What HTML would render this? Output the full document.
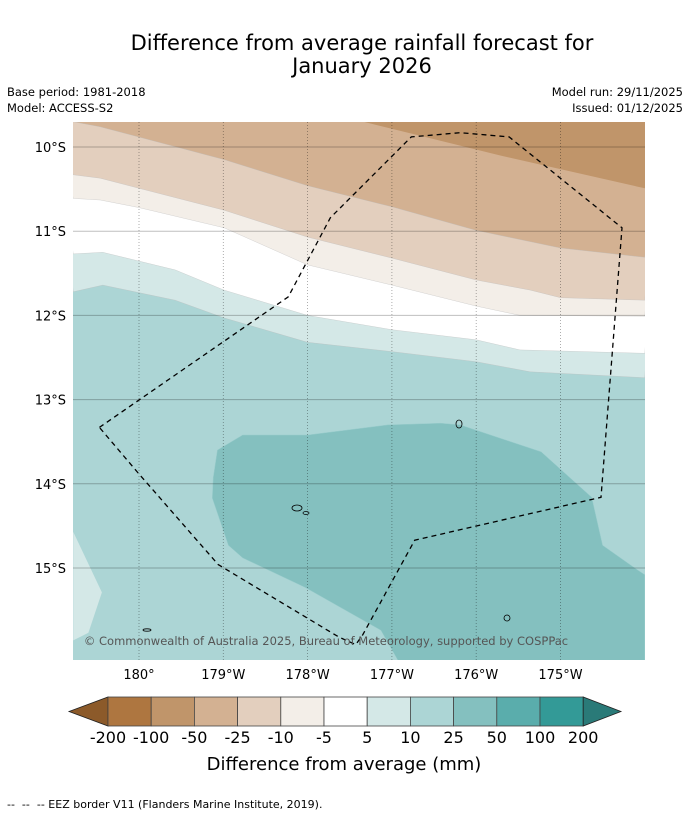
<!DOCTYPE html>
<html><head><meta charset="utf-8"><style>
body{margin:0;background:#fff;font-family:"Liberation Sans","DejaVu Sans",sans-serif}
#w{position:relative;width:690px;height:816px;overflow:hidden}
</style></head><body><div id="w">
<svg id="s" width="690" height="816" xmlns="http://www.w3.org/2000/svg" style="position:absolute;left:0;top:0">
<text x="362" y="50" font-size="21" text-anchor="middle" font-family="DejaVu Sans,sans-serif">Difference from average rainfall forecast for</text>
<text x="362" y="73" font-size="21" text-anchor="middle" font-family="DejaVu Sans,sans-serif">January 2026</text>
<text x="7" y="96" font-size="11.5" font-family="DejaVu Sans,sans-serif">Base period: 1981-2018</text>
<text x="7" y="112" font-size="11.5" font-family="DejaVu Sans,sans-serif">Model: ACCESS-S2</text>
<text x="683" y="96" font-size="11.5" text-anchor="end" font-family="DejaVu Sans,sans-serif">Model run: 29/11/2025</text>
<text x="683" y="112" font-size="11.5" text-anchor="end" font-family="DejaVu Sans,sans-serif">Issued: 01/12/2025</text>
<defs><clipPath id="cp"><rect x="73" y="122" width="572" height="538"/></clipPath></defs>
<g id="map" clip-path="url(#cp)"></g>
<g id="ax"></g>
<g id="cb"></g>
<text x="344" y="770" font-size="18" text-anchor="middle" font-family="DejaVu Sans,sans-serif">Difference from average (mm)</text>
<text x="7" y="808" font-size="11" font-family="DejaVu Sans,sans-serif">--&#160;&#160;--&#160;&#160;-- EEZ border V11 (Flanders Marine Institute, 2019).</text>
</svg>
<script>
const lonTicks=[0,1,2,3,4,5];
const lonLabels=["180°","179°W","178°W","177°W","176°W","175°W"];
const latTicks=[10,11,12,13,14,15];
const latLabels=["10°S","11°S","12°S","13°S","14°S","15°S"];
const cbLevels=["-200","-100","-50","-25","-10","-5","5","10","25","50","100","200"];
const cbColors=["#ae7640","#c0956a","#d3b192","#e3cfbe","#f3eee8","#ffffff","#d4e8e7","#acd5d5","#84c0bf","#5aadac","#339a97"];
const b1=[[2.66,9.70],[4.28,10.10],[6.0,10.49]];
const b2=[[-0.78,9.70],[-0.46,9.76],[1.01,10.15],[2.0,10.46],[3.0,10.71],[4.0,10.99],[5.0,11.20],[6.0,11.31]];
const b3=[[-0.78,10.33],[-0.46,10.37],[0,10.49],[1.01,10.75],[2.0,11.07],[3.0,11.32],[4.0,11.58],[4.64,11.70],[5.0,11.79],[6.0,11.82]];
const b4=[[-0.78,10.61],[-0.46,10.63],[0,10.72],[1.01,10.96],[2.0,11.40],[3.0,11.64],[4.0,11.89],[4.52,12.0],[6.0,12.01]];
const b5=[[-0.78,11.27],[-0.43,11.25],[0.43,11.46],[1.01,11.70],[2.0,12.0],[3.0,12.17],[4.0,12.29],[4.52,12.41],[6.0,12.45]];
const b6=[[-0.78,11.72],[-0.43,11.64],[0.43,11.82],[1.01,12.03],[2.0,12.32],[3.0,12.43],[4.0,12.55],[4.64,12.67],[6.0,12.74]];
const blob=[[0.93,13.60],[1.23,13.42],[2.0,13.42],[2.95,13.30],[3.58,13.28],[3.81,13.30],[4.77,13.62],[5.37,14.16],[5.50,14.73],[5.91,15.02],[6.0,15.08],[6.0,16.2],[3.13,16.2],[2.87,15.74],[1.97,15.23],[1.23,14.88],[1.06,14.73],[0.87,14.17],[0.88,13.93]];
const swLight=[[-0.78,14.57],[-0.44,15.29],[-0.60,15.77],[-0.78,15.86]];
const eez=[[-0.47,13.33],[1.77,11.78],[2.27,10.84],[3.23,9.88],[3.81,9.83],[4.39,9.88],[5.73,10.96],[5.48,14.16],[3.27,14.67],[2.65,15.80],[2.57,15.91],[2.37,15.82],[0.94,14.96],[-0.02,13.86],[-0.47,13.33]];
const X=d=>139+d*84.3, Y=l=>147+(l-10)*84.2;
const NS="http://www.w3.org/2000/svg";
function mk(t,a,p){const e=document.createElementNS(NS,t);for(const k in a)e.setAttribute(k,a[k]);p.appendChild(e);return e;}
const map=document.getElementById('map'),ax=document.getElementById('ax'),cb=document.getElementById('cb');
const pts=a=>a.map(p=>X(p[0]).toFixed(1)+','+Y(p[1]).toFixed(1)).join(' ');
let bg=mk('rect',{x:73,y:122,width:572,height:538,fill:cbColors[7]},map);


const layers=[[b6,cbColors[6],'band-5-10'],[b5,cbColors[5],'band-neutral'],[b4,cbColors[4],'band-neg10-neg5'],[b3,cbColors[3],'band-neg25-neg10'],[b2,cbColors[2],'band-neg50-neg25']];
layers.forEach(([b,c,n])=>{const a=b.concat([[6.2,9.5],[-1,9.5]]);
 const e=mk('polygon',{points:pts(a),fill:c,stroke:'#bbb','stroke-width':0.3},map);
 
 });
let e1=mk('polygon',{points:pts(b1.concat([[6.2,9.5]])),fill:cbColors[1]},map);


let e2=mk('polygon',{points:pts(blob),fill:cbColors[8],stroke:'#9cc',"stroke-width":0.5},map);


let e3=mk('polygon',{points:pts(swLight),fill:cbColors[6]},map);


latTicks.forEach((l,i)=>{let g=mk('line',{x1:73,x2:645,y1:Y(l),y2:Y(l),stroke:'rgba(0,0,0,0.25)','stroke-width':1},map);
 
 
 let t=mk('text',{x:66,y:Y(l)+5,'font-size':13,'text-anchor':'end','font-family':'DejaVu Sans,sans-serif'},ax);t.textContent=latLabels[i];
 
 });
lonTicks.forEach((d,i)=>{let g=mk('line',{x1:X(d),x2:X(d),y1:122,y2:660,stroke:'rgba(0,0,0,0.4)','stroke-width':0.8,'stroke-dasharray':'1,2'},map);
 
 
 let t=mk('text',{x:X(d),y:679,'font-size':13,'text-anchor':'middle','font-family':'DejaVu Sans,sans-serif'},ax);t.textContent=lonLabels[i];
 
 });
let ez=mk('polyline',{points:pts(eez),fill:'none',stroke:'#000','stroke-width':1.3,'stroke-dasharray':'5,4'},map);


[[297,508,5,3],[306,513,3,1.5],[459,424,3,4],[507,618,3,3],[147,630,4,1.2]].forEach(a=>{let e=mk('ellipse',{cx:a[0],cy:a[1],rx:a[2],ry:a[3],fill:'none',stroke:'#000','stroke-width':0.8},map);
 
 });
let cr=mk('text',{x:326,y:645,'font-size':11.5,'text-anchor':'middle',fill:'#555','font-family':'DejaVu Sans,sans-serif'},map);cr.textContent='© Commonwealth of Australia 2025, Bureau of Meteorology, supported by COSPPac';


const cx0=108,cw=43.2,cy=697,ch=29;
let la=mk('polygon',{points:`${cx0},${cy} ${cx0},${cy+ch} 69,${cy+ch/2}`,fill:'#8c5a2a',stroke:'#222','stroke-width':0.8},cb);


cbColors.forEach((c,i)=>{let r=mk('rect',{x:cx0+i*cw,y:cy,width:cw,height:ch,fill:c,stroke:'#444','stroke-width':0.8},cb);
 
 });
const xe=cx0+cbColors.length*cw;
let ra=mk('polygon',{points:`${xe},${cy} ${xe},${cy+ch} 621,${cy+ch/2}`,fill:'#2a7a78',stroke:'#222','stroke-width':0.8},cb);


cbLevels.forEach((v,i)=>{let t=mk('text',{x:cx0+i*cw,y:743,'font-size':16,'text-anchor':'middle','font-family':'DejaVu Sans,sans-serif'},cb);t.textContent=v;
 
 });
</script></div></body></html>
